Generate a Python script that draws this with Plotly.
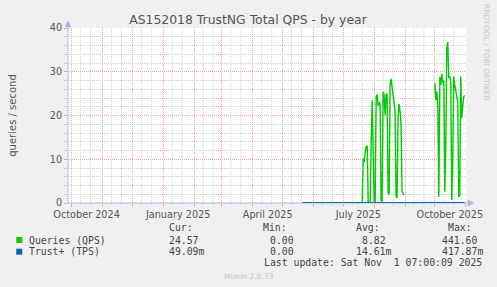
import plotly.graph_objects as go
import pandas as pd

# ---------------- data ----------------
range_start = "2024-09-27 07:00:09"
range_end = "2025-11-01 07:00:09"

label_dates = ["2024-10-16", "2025-01-16", "2025-04-16", "2025-07-16", "2025-10-16"]
label_text = ["October 2024", "January 2025", "April 2025", "July 2025", "October 2025"]

month_starts = ["2024-10-01", "2024-11-01", "2024-12-01", "2025-01-01", "2025-02-01",
                "2025-03-01", "2025-04-01", "2025-05-01", "2025-06-01", "2025-07-01",
                "2025-08-01", "2025-09-01", "2025-10-01", "2025-11-01"]

# Queries (QPS): idle zero period, then two daily clusters
q_idle_dates = ["2025-05-21", "2025-07-20"]
q_idle_values = [0.0, 0.0]

q1_start = "2025-07-21"
q1_values = [10.2, 9.4, 11.5, 12.9, 13.1, 0.2, 0.0, 0.4, 14.0, 23.4,
             12.0, 0.3, 0.2, 24.3, 24.8, 22.2, 23.0, 22.5, 0.5, 0.4,
             25.4, 24.6, 20.0, 25.0, 24.8, 2.5, 1.9, 27.0, 28.4, 26.5,
             24.8, 23.0, 21.0, 1.5, 1.2, 19.5, 22.6, 21.0, 18.0, 2.6,
             2.0, 1.8]

q2_start = "2025-10-01"
q2_values = [27.4, 23.5, 25.5, 22.0, 1.4, 28.8, 27.0, 29.5, 27.5, 28.0,
             2.6, 14.0, 35.4, 36.8, 28.6, 29.0, 27.8, 0.7, 10.0, 28.9,
             27.0, 25.4, 23.5, 23.0, 1.4, 1.8, 28.9, 19.4, 22.0, 24.3,
             24.57]

# Trust+ (TPS): tiny values, sits on the axis
t_dates = ["2025-05-21", "2025-06-15", "2025-07-21", "2025-08-15", "2025-09-10", "2025-10-05", "2025-10-31"]
t_values = [0.0, 0.0, 0.012, 0.021, 0.008, 0.030, 0.049]

legend_rows = [
    ("Queries (QPS)", "#00CC00", "24.57", "0.00", "8.82", "441.60"),
    ("Trust+ (TPS)", "#0066B3", "49.09m", "0.00", "14.61m", "417.87m"),
]
last_update = "Last update: Sat Nov\u00a0\u00a01 07:00:09 2025"

# ---------------- build ----------------
q1_dates = pd.date_range(q1_start, periods=len(q1_values), freq="D")
q2_dates = pd.date_range(q2_start, periods=len(q2_values), freq="D")

qx = list(pd.to_datetime(q_idle_dates)) + list(q1_dates) + [q1_dates[-1] + pd.Timedelta(hours=12)] + list(q2_dates)
qy = q_idle_values + q1_values + [None] + q2_values

GREEN = "#00CC00"
BLUE = "#0066B3"
RED_GRID = "#f0a4a4"
GRAY_GRID = "#cfcfcf"
AXIS = "#aab4ec"

L, R, T, B = 66, 466, 28, 203
def px(x):
    return (x - L) / (R - L)
def py(y):
    return (B - y) / (B - T)

fig = go.Figure()
fig.add_trace(go.Scatter(x=qx, y=qy, mode="lines", line=dict(color=GREEN, width=1.4),
                         connectgaps=False, showlegend=False, hoverinfo="skip"))
fig.add_trace(go.Scatter(x=pd.to_datetime(t_dates), y=t_values, mode="lines",
                         line=dict(color=BLUE, width=1.6), showlegend=False, hoverinfo="skip"))

shapes = []
# minor vertical grid (10th and 20th of each month)
minor_days = []
for m in pd.date_range("2024-10-01", "2025-10-01", freq="MS"):
    minor_days += [m + pd.Timedelta(days=9), m + pd.Timedelta(days=19)]
for d in minor_days:
    shapes.append(dict(type="line", xref="x", yref="paper", x0=d, x1=d, y0=-0.012, y1=1,
                       line=dict(color=GRAY_GRID, width=1, dash="1px,1px"), layer="below"))
# axis lines with arrows
shapes.append(dict(type="line", xref="paper", yref="paper", x0=0, x1=px(470), y0=0, y1=0,
                   line=dict(color=AXIS, width=1), layer="between"))
shapes.append(dict(type="line", xref="paper", yref="paper", x0=0, x1=0, y0=0, y1=py(24),
                   line=dict(color=AXIS, width=1), layer="between"))
shapes.append(dict(type="path", xref="paper", yref="paper",
                   path=f"M {px(468)} {py(200)} L {px(474)} {py(203)} L {px(468)} {py(206)} Z",
                   fillcolor=AXIS, line=dict(color=AXIS, width=0.5), layer="above"))
shapes.append(dict(type="path", xref="paper", yref="paper",
                   path=f"M {px(63)} {py(27)} L {px(66)} {py(21)} L {px(69)} {py(27)} Z",
                   fillcolor=AXIS, line=dict(color=AXIS, width=0.5), layer="above"))

ann = []
MONO = "DejaVu Sans Mono"
TXT = "#444444"
def text(x, y, s, size=9.8, color=TXT, family=MONO, anchor="left", angle=0):
    ann.append(dict(x=px(x), y=py(y), xref="paper", yref="paper", text=s, showarrow=False,
                    xanchor=anchor, yanchor="middle", textangle=angle, borderpad=0,
                    font=dict(family=family, size=size, color=color)))

# header
for lbl, x in [("Cur:", 166.7), ("Min:", 261), ("Avg:", 354), ("Max:", 446.7)]:
    text(x, 227.7, lbl)
row_y = [240, 251.7]
cur_x, min_x = 166.7, 267.7
avg_x = [360, 354]
max_x = 441
for i, (name, col, cur, mn, avg, mx) in enumerate(legend_rows):
    y = row_y[i]
    shapes.append(dict(type="rect", xref="paper", yref="paper", x0=px(14), x1=px(20),
                       y0=py(y - 3), y1=py(y + 3), fillcolor=col, line=dict(width=0)))
    text(26, y, name)
    text(cur_x, y, cur)
    text(min_x, y, mn)
    text(avg_x[i], y, avg)
    text(max_x, y, mx)
text(261.7, 262.7, last_update)
text(248, 276.5, "Munin 2.0.73", size=7.6, color="#c4c4c4", family="DejaVu Sans", anchor="center")
text(487, 53, "RRDTOOL / TOBI OETIKER", size=7.5, color="#c8c8c8", family="DejaVu Sans",
     anchor="center", angle=90)

fig.update_layout(
    width=497, height=287,
    margin=dict(l=L, r=497 - R, t=T, b=287 - B, pad=0),
    paper_bgcolor="#F0F0F0", plot_bgcolor="#FFFFFF",
    showlegend=False,
    title=dict(text="AS152018 TrustNG Total QPS - by year", x=248 / 497, xanchor="center",
               y=1 - 20 / 287, yanchor="middle",
               font=dict(family="DejaVu Sans", size=12.4, color="#555555")),
    shapes=shapes, annotations=ann,
    xaxis=dict(type="date", range=[range_start, range_end], tickmode="array",
               tickvals=label_dates, ticktext=label_text, showgrid=False,
               ticks="outside", ticklen=2, tickcolor="rgba(0,0,0,0)",
               showline=False, zeroline=False,
               tickfont=dict(family="DejaVu Sans", size=9.7, color="#555555"),
               minor=dict(tickmode="array", tickvals=month_starts, showgrid=True,
                          gridcolor=RED_GRID, griddash="1px,1px", gridwidth=1,
                          ticks="outside", ticklen=3, tickcolor=RED_GRID)),
    yaxis=dict(range=[0, 40], tickmode="array", tickvals=[0, 10, 20, 30, 40],
               showgrid=True, gridcolor=RED_GRID, griddash="1px,1px", gridwidth=1,
               ticks="outside", ticklen=3, tickcolor=RED_GRID,
               showline=False, zeroline=False,
               tickfont=dict(family="DejaVu Sans", size=9.7, color="#555555"),
               title=dict(text="queries / second", standoff=31,
                          font=dict(family="DejaVu Sans", size=10, color="#555555")),
               minor=dict(dtick=2, showgrid=True, gridcolor=GRAY_GRID, griddash="1px,1px",
                          ticks="outside", ticklen=3, tickcolor=GRAY_GRID)),
)

fig.write_html("out.html")
